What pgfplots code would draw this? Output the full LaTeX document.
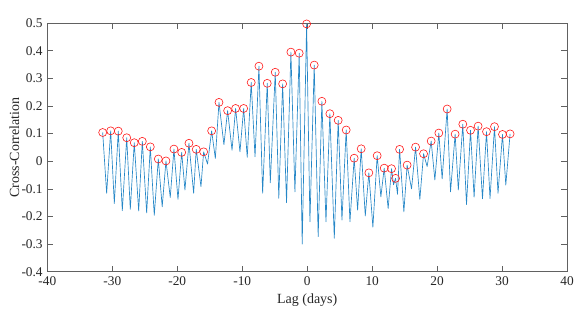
\documentclass[border=0pt]{standalone}
\usepackage{pgfplots}
\pgfplotsset{compat=1.18}
\usepackage{fontspec}
\setmainfont{Liberation Serif}
\definecolor{mblue}{rgb}{0,0.447,0.741}
\definecolor{axgray}{rgb}{0.38,0.38,0.38}
\definecolor{txt}{rgb}{0.15,0.15,0.15}
\begin{document}
\begin{tikzpicture}
\begin{axis}[
  scale only axis,
  width=389.8pt, height=186.5pt,
  xmin=-40, xmax=40, ymin=-0.4, ymax=0.5,
  xtick={-40,-30,...,40},
  ytick={-0.4,-0.3,-0.2,-0.1,0,0.1,0.2,0.3,0.4,0.5},
  yticklabels={-0.4,-0.3,-0.2,-0.1,0,0.1,0.2,0.3,0.4,0.5},
  xticklabels={-40,-30,-20,-10,0,10,20,30,40},
  tick align=inside, tick pos=both,
  major tick length=4.5pt,
  axis line style={axgray, line width=0.5pt},
  every tick/.style={axgray, line width=0.5pt},
  tick label style={font=\fontsize{10}{12}\selectfont, text=txt},
  label style={font=\fontsize{10.5}{12}\selectfont, text=txt},
  /pgf/number format/assume math mode=true,
  xlabel={Lag (days)},
  ylabel={Cross-Correlation},
  xlabel style={at={(axis description cs:0.5,-0.114)}, anchor=center},
  ylabel style={at={(axis description cs:-0.0635,0.5)}, anchor=center},
  clip=false,
]
\addplot[mblue!85, line width=0.5pt, line join=round] table {
x y
-31.48 0.104
-30.87 -0.116
-30.25 0.110
-29.69 -0.153
-29.08 0.109
-28.46 -0.179
-27.78 0.085
-27.23 -0.174
-26.62 0.067
-25.94 -0.180
-25.38 0.072
-24.71 -0.187
-24.15 0.052
-23.54 -0.196
-22.92 0.008
-22.32 -0.165
-21.74 0.001
-21.08 -0.131
-20.51 0.044
-19.89 -0.138
-19.32 0.032
-18.82 -0.104
-18.20 0.065
-17.48 -0.116
-17.08 0.043
-16.35 -0.092
-15.94 0.034
-15.34 -0.010
-14.71 0.110
-14.14 0.010
-13.58 0.213
-12.82 0.060
-12.25 0.183
-11.57 0.040
-11.02 0.191
-10.35 0.034
-9.78 0.191
-9.23 0.014
-8.62 0.285
-8.03 0.016
-7.43 0.344
-6.86 -0.116
-6.15 0.282
-5.68 -0.078
-4.92 0.322
-4.37 -0.134
-3.78 0.280
-3.18 -0.150
-2.51 0.395
-1.89 -0.111
-1.23 0.391
-0.77 -0.300
-0.09 0.497
0.42 -0.219
1.08 0.348
1.69 -0.273
2.26 0.217
2.89 -0.219
3.49 0.172
4.17 -0.279
4.77 0.148
5.35 -0.213
6.00 0.113
6.58 -0.219
7.23 0.011
7.76 -0.177
8.31 0.045
8.94 -0.198
9.49 -0.042
10.11 -0.239
10.77 0.020
11.34 -0.129
11.85 -0.025
12.46 -0.171
12.98 -0.027
13.29 -0.085
13.60 -0.062
13.90 -0.120
14.22 0.043
14.88 -0.183
15.38 -0.014
16.06 -0.100
16.68 0.051
17.34 -0.138
17.91 0.027
18.46 -0.019
19.08 0.073
19.65 -0.068
20.26 0.102
20.77 -0.064
21.54 0.189
22.06 -0.111
22.77 0.098
23.26 -0.104
23.95 0.134
24.52 -0.157
25.14 0.112
25.69 -0.130
26.31 0.127
26.98 -0.136
27.60 0.107
28.14 -0.135
28.83 0.125
29.37 -0.116
30.06 0.097
30.57 -0.086
31.23 0.099
};
\addplot[only marks, mark=o, mark size=3pt, mark options={red!90, line width=0.45pt}] table {
x y
-31.48 0.104
-30.25 0.110
-29.08 0.109
-27.78 0.085
-26.62 0.067
-25.38 0.072
-24.15 0.052
-22.92 0.008
-21.74 0.001
-20.51 0.044
-19.32 0.032
-18.20 0.065
-17.08 0.043
-15.94 0.034
-14.71 0.110
-13.58 0.213
-12.25 0.183
-11.02 0.191
-9.78 0.191
-8.62 0.285
-7.43 0.344
-6.15 0.282
-4.92 0.322
-3.78 0.280
-2.51 0.395
-1.23 0.391
-0.09 0.497
1.08 0.348
2.26 0.217
3.49 0.172
4.77 0.148
6.00 0.113
7.23 0.011
8.31 0.045
9.49 -0.042
10.77 0.020
11.85 -0.025
12.98 -0.027
13.60 -0.062
14.22 0.043
15.38 -0.014
16.68 0.051
17.91 0.027
19.08 0.073
20.26 0.102
21.54 0.189
22.77 0.098
23.95 0.134
25.14 0.112
26.31 0.127
27.60 0.107
28.83 0.125
30.06 0.097
31.23 0.099
};
\end{axis}
\pgfresetboundingbox
\useasboundingbox (-35.5pt,-43.7pt) rectangle (399.5pt,203.8pt);
\end{tikzpicture}
\end{document}
